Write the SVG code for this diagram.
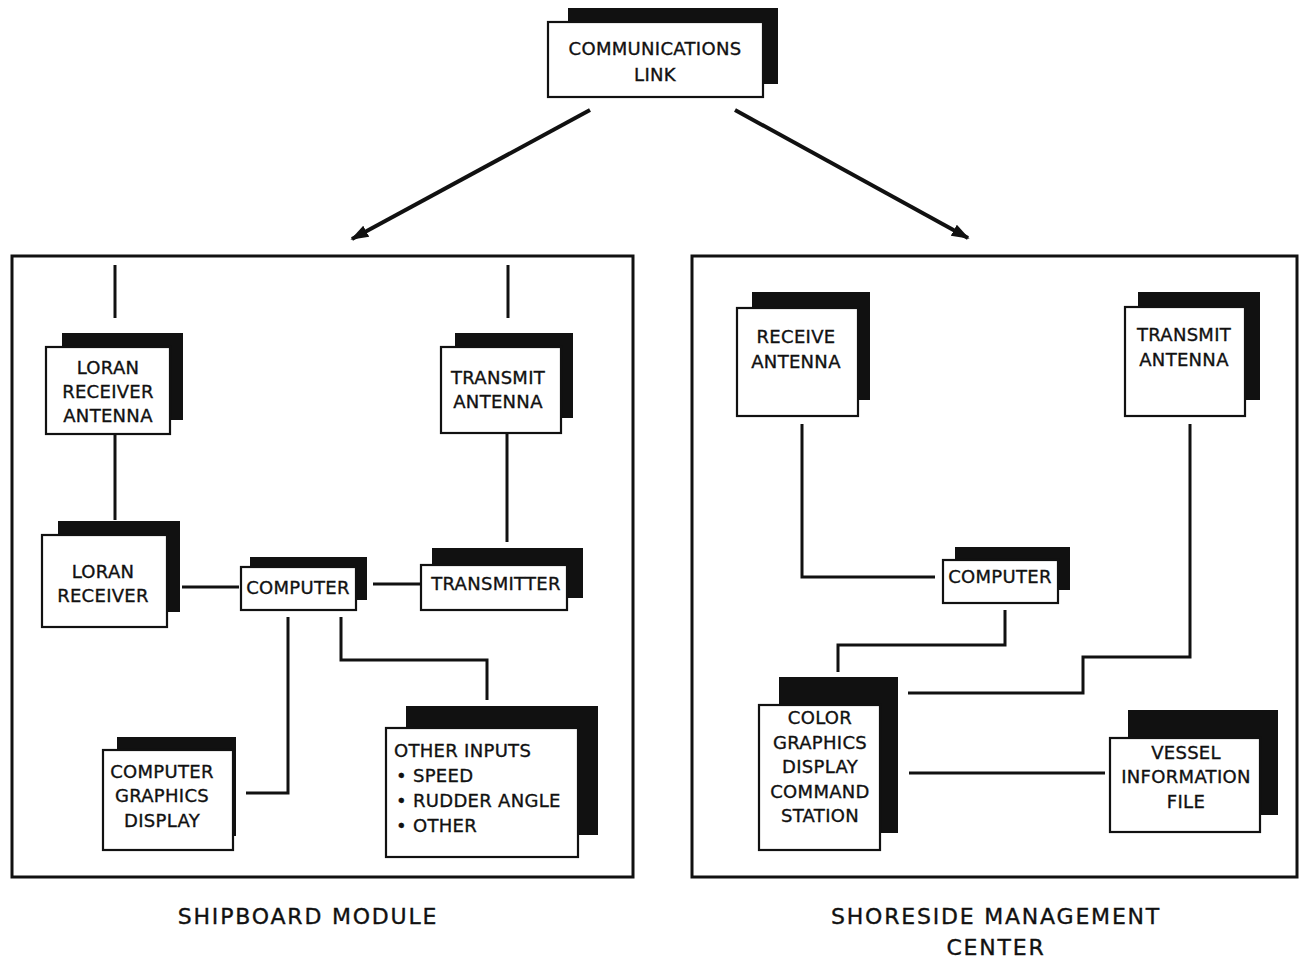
<svg xmlns="http://www.w3.org/2000/svg" width="1299" height="962" viewBox="0 0 1299 962">
<defs>
<style>
.sh{fill:#111;}
.fr{fill:#fff;stroke:#111;stroke-width:2.2;}
.t{font-family:"DejaVu Sans","Liberation Sans",sans-serif;font-size:18px;letter-spacing:0.3px;fill:#111;stroke:#111;stroke-width:0.35;text-anchor:middle;}
.tl{font-family:"DejaVu Sans","Liberation Sans",sans-serif;font-size:18px;letter-spacing:0.3px;fill:#111;stroke:#111;stroke-width:0.35;}
.big{font-family:"DejaVu Sans","Liberation Sans",sans-serif;font-size:22px;letter-spacing:1.8px;fill:#111;stroke:#111;stroke-width:0.35;text-anchor:middle;}
.panel{fill:none;stroke:#111;stroke-width:3;}
.c{fill:none;stroke:#111;stroke-width:3;}
.a{fill:none;stroke:#111;stroke-width:4;}
</style>
<marker id="ah" viewBox="0 0 10 10" refX="9" refY="5" markerWidth="4.5" markerHeight="4.5" orient="auto" markerUnits="strokeWidth">
<path d="M0,1.5 L10,5 L0,8.5 Z" fill="#111"/>
</marker>
</defs>
<rect width="1299" height="962" fill="#fff"/>

<g id="panels">
<rect class="panel" x="12" y="256" width="621" height="621"/>
<rect class="panel" x="692" y="256" width="605" height="621"/>
</g>

<g id="connectors">
<line class="a" x1="590" y1="110" x2="352" y2="239" marker-end="url(#ah)"/>
<line class="a" x1="735" y1="110" x2="968" y2="238" marker-end="url(#ah)"/>
<line class="c" x1="115" y1="265" x2="115" y2="318"/>
<line class="c" x1="115" y1="434" x2="115" y2="520"/>
<line class="c" x1="508" y1="265" x2="508" y2="318"/>
<line class="c" x1="507" y1="434" x2="507" y2="542"/>
<line class="c" x1="182" y1="587" x2="239" y2="587"/>
<line class="c" x1="373" y1="584" x2="420" y2="584"/>
<polyline class="c" points="246,793 288,793 288,617"/>
<polyline class="c" points="341,617 341,660 487,660 487,700"/>
<polyline class="c" points="802,424 802,577 935,577"/>
<polyline class="c" points="1190,424 1190,657 1083,657 1083,693 908,693"/>
<polyline class="c" points="1005,610 1005,645 838,645 838,672"/>
<line class="c" x1="909" y1="773" x2="1105" y2="773"/>
</g>

<g id="comm-link">
<rect class="sh" x="568" y="8" width="210" height="76"/>
<rect class="fr" x="548" y="22" width="215" height="75"/>
<text class="t" x="655" y="55" letter-spacing="1.2">COMMUNICATIONS</text>
<text class="t" x="655" y="81">LINK</text>
</g>

<g id="loran-antenna">
<rect class="sh" x="62" y="333" width="121" height="87"/>
<rect class="fr" x="46" y="347" width="124" height="87"/>
<text class="t" x="108" y="374">LORAN</text>
<text class="t" x="108" y="398">RECEIVER</text>
<text class="t" x="108" y="422">ANTENNA</text>
</g>

<g id="transmit-antenna-ship">
<rect class="sh" x="455" y="333" width="118" height="85"/>
<rect class="fr" x="441" y="347" width="120" height="86"/>
<text class="t" x="498" y="384">TRANSMIT</text>
<text class="t" x="498" y="408">ANTENNA</text>
</g>

<g id="loran-receiver">
<rect class="sh" x="58" y="521" width="122" height="91"/>
<rect class="fr" x="42" y="535" width="125" height="92"/>
<text class="t" x="103" y="578">LORAN</text>
<text class="t" x="103" y="602">RECEIVER</text>
</g>

<g id="computer-ship">
<rect class="sh" x="250" y="557" width="117" height="43"/>
<rect class="fr" x="241" y="567" width="115" height="43"/>
<text class="t" x="298" y="594">COMPUTER</text>
</g>

<g id="transmitter">
<rect class="sh" x="432" y="548" width="151" height="50"/>
<rect class="fr" x="421" y="565" width="146" height="45"/>
<text class="t" x="496" y="590">TRANSMITTER</text>
</g>

<g id="graphics-display">
<rect class="sh" x="117" y="737" width="119" height="99"/>
<rect class="fr" x="103" y="750" width="130" height="100"/>
<text class="t" x="162" y="778">COMPUTER</text>
<text class="t" x="162" y="802">GRAPHICS</text>
<text class="t" x="162" y="827">DISPLAY</text>
</g>

<g id="other-inputs">
<rect class="sh" x="406" y="706" width="192" height="129"/>
<rect class="fr" x="386" y="728" width="192" height="129"/>
<text class="tl" x="394" y="757">OTHER INPUTS</text>
<text class="tl" x="396" y="782">• SPEED</text>
<text class="tl" x="396" y="807">• RUDDER ANGLE</text>
<text class="tl" x="396" y="832">• OTHER</text>
</g>

<g id="receive-antenna">
<rect class="sh" x="752" y="292" width="118" height="108"/>
<rect class="fr" x="737" y="308" width="121" height="108"/>
<text class="t" x="796" y="343">RECEIVE</text>
<text class="t" x="796" y="368">ANTENNA</text>
</g>

<g id="transmit-antenna-shore">
<rect class="sh" x="1138" y="292" width="122" height="108"/>
<rect class="fr" x="1125" y="307" width="120" height="109"/>
<text class="t" x="1184" y="341">TRANSMIT</text>
<text class="t" x="1184" y="366">ANTENNA</text>
</g>

<g id="computer-shore">
<rect class="sh" x="955" y="547" width="115" height="43"/>
<rect class="fr" x="943" y="560" width="115" height="43"/>
<text class="t" x="1000" y="583">COMPUTER</text>
</g>

<g id="command-station">
<rect class="sh" x="779" y="677" width="119" height="156"/>
<rect class="fr" x="759" y="705" width="121" height="145"/>
<text class="t" x="820" y="724">COLOR</text>
<text class="t" x="820" y="749">GRAPHICS</text>
<text class="t" x="820" y="773">DISPLAY</text>
<text class="t" x="820" y="798">COMMAND</text>
<text class="t" x="820" y="822">STATION</text>
</g>

<g id="vessel-file">
<rect class="sh" x="1128" y="710" width="150" height="105"/>
<rect class="fr" x="1110" y="738" width="150" height="94"/>
<text class="t" x="1186" y="759">VESSEL</text>
<text class="t" x="1186" y="783">INFORMATION</text>
<text class="t" x="1186" y="808">FILE</text>
</g>

<g id="labels">
<text class="big" x="308" y="924">SHIPBOARD MODULE</text>
<text class="big" x="996" y="924">SHORESIDE MANAGEMENT</text>
<text class="big" x="996" y="955">CENTER</text>
</g>
</svg>
